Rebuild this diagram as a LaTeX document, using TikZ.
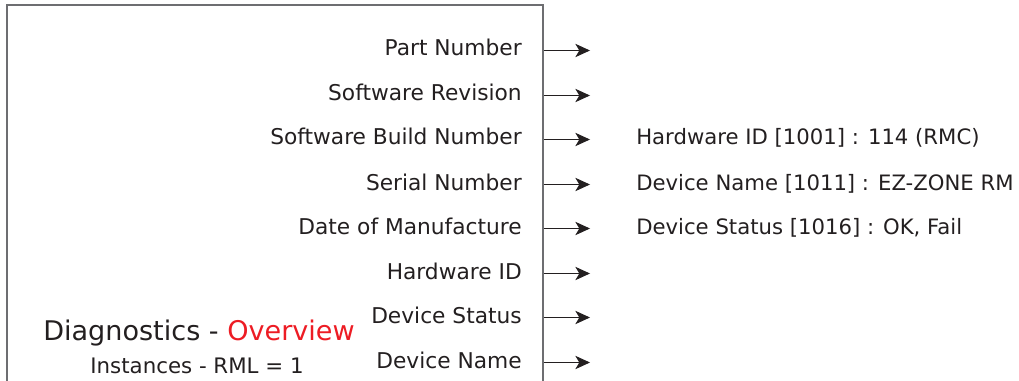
\documentclass[tikz,border=0pt]{standalone}
\usepackage{fontspec}
\setmainfont{DejaVu Sans}
\usetikzlibrary{arrows.meta}
\definecolor{Ink}{HTML}{231F20}
\definecolor{FrameGray}{HTML}{6D6E71}
\definecolor{TitleRed}{HTML}{ED1C24}
\tikzset{
  framebox/.style={draw=FrameGray,line width=1pt},
  paramlabel/.style={anchor=base east,font=\fontsize{16.3}{19}\selectfont,text=Ink,inner sep=0pt},
  valuelabel/.style={anchor=base west,font=\fontsize{15.9}{19}\selectfont,text=Ink,inner sep=0pt},
  titlelabel/.style={anchor=base,font=\fontsize{20.3}{24}\selectfont,text=Ink,inner sep=0pt},
  sublabel/.style={anchor=base,font=\fontsize{16}{19}\selectfont,text=Ink,inner sep=0pt},
  outarrow/.style={-{Stealth[length=11pt,width=10pt,inset=3pt]},line width=0.8pt,Ink}
}
\begin{document}
\begin{tikzpicture}[x=0.75pt,y=-0.75pt]
  \useasboundingbox (0,0) rectangle (1019,381);
  \draw[framebox] (7,390) -- (7,5) -- (543,5) -- (543,390);

  \node[paramlabel] (partno) at (522,56) {Part Number};
  \node[paramlabel] (swrev) at (522,101) {Software Revision};
  \node[paramlabel] (swbuild) at (522,145) {Software Build Number};
  \node[paramlabel] (serial) at (522,190) {Serial Number};
  \node[paramlabel] (mfgdate) at (522,234) {Date of Manufacture};
  \node[paramlabel] (hwid) at (522,279) {Hardware ID};
  \node[paramlabel] (devstatus) at (522,323) {Device Status};
  \node[paramlabel] (devname) at (522,368) {Device Name};

  \coordinate (partnoS) at (544,50.5);       \coordinate (partnoE) at (590,50.5);
  \coordinate (swrevS) at (544,95.5);        \coordinate (swrevE) at (590,95.5);
  \coordinate (swbuildS) at (544,139.5);     \coordinate (swbuildE) at (590,139.5);
  \coordinate (serialS) at (544,184.5);      \coordinate (serialE) at (590,184.5);
  \coordinate (mfgdateS) at (544,228.5);     \coordinate (mfgdateE) at (590,228.5);
  \coordinate (hwidS) at (544,273.5);        \coordinate (hwidE) at (590,273.5);
  \coordinate (devstatusS) at (544,317.5);   \coordinate (devstatusE) at (590,317.5);
  \coordinate (devnameS) at (544,362.5);     \coordinate (devnameE) at (590,362.5);
  \draw[outarrow] (partnoS) -- (partnoE);
  \draw[outarrow] (swrevS) -- (swrevE);
  \draw[outarrow] (swbuildS) -- (swbuildE);
  \draw[outarrow] (serialS) -- (serialE);
  \draw[outarrow] (mfgdateS) -- (mfgdateE);
  \draw[outarrow] (hwidS) -- (hwidE);
  \draw[outarrow] (devstatusS) -- (devstatusE);
  \draw[outarrow] (devnameS) -- (devnameE);

  \node[valuelabel] (hwidval) at (636,145) {Hardware ID [1001] : 114 (RMC)};
  \node[valuelabel] (devnameval) at (636,190) {Device Name [1011] : EZ-ZONE RM};
  \node[valuelabel] (devstatusval) at (636,234) {Device Status [1016] : OK, Fail};

  \node[titlelabel] (title) at (199,340) {Diagnostics - \textcolor{TitleRed}{Overview}};
  \node[sublabel] (instances) at (197,373) {Instances - RML = 1};
\end{tikzpicture}
\end{document}
